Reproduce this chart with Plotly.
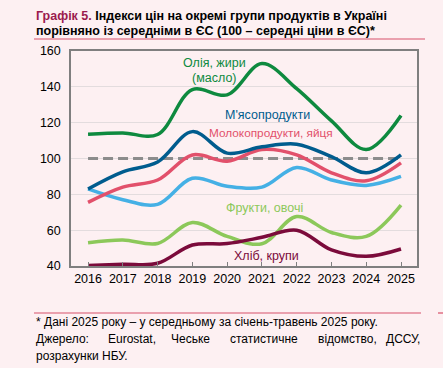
import plotly.graph_objects as go

years = [2016, 2017, 2018, 2019, 2020, 2021, 2022, 2023, 2024, 2025]
oil = [113.6, 114.3, 113.4, 138.5, 135.5, 153, 139, 121, 105, 124]
meat = [83, 92.6, 98, 115, 103, 106.5, 108, 101, 92, 102]
dairy = [75.5, 84, 88, 102, 98.5, 105, 102, 92, 87.6, 97.6]
meat_lb = [83, 77, 74.4, 89, 84.5, 84, 95, 88, 85, 90]
fruit = [53, 54.5, 52.6, 64.3, 56.5, 52.4, 67.6, 58.7, 56.5, 74]
bread = [40.3, 41, 41.5, 51.7, 52.5, 56, 60, 49, 45.4, 49.5]
eu_avg = [100] * len(years)

series = [
    ("Фрукти, овочі", fruit, "#8CC85A"),
    ("Хліб, крупи", bread, "#7B0B3B"),
    ("light blue", meat_lb, "#45B0E5"),
    ("Молокопродукти, яйця", dairy, "#E2506B"),
    ("М'ясопродукти", meat, "#005C8E"),
    ("Олія, жири (масло)", oil, "#0E8A3F"),
]

FONT = "Liberation Sans, Arial, sans-serif"
L, R, T, B = 71, 417, 51, 266
W, H = 443, 368

def px(x):
    return (x - L) / (R - L)

def py(y):
    return (B - y) / (B - T)

fig = go.Figure()
fig.add_trace(go.Scatter(x=years, y=eu_avg, mode="lines",
                         line=dict(color="#8C8C8C", width=3.2, dash="10px,5px"),
                         hoverinfo="skip", showlegend=False))
for name, vals, col in series:
    fig.add_trace(go.Scatter(x=years, y=vals, mode="lines", name=name,
                             line=dict(color=col, width=3.5, shape="spline", smoothing=1.0),
                             showlegend=False))

ann = []
def label(text, x, y, col, size=12.5, xanchor="center"):
    ann.append(dict(text=text, x=x, y=y, xref="x", yref="y", showarrow=False,
                    font=dict(family=FONT, size=size, color=col), xanchor=xanchor))

label("Олія, жири", 2019.65, 153.5, "#0E8A3F")
label("(масло)", 2019.65, 145, "#0E8A3F")
label("М'ясопродукти", 2021.15, 124.5, "#005C8E")
label("Молокопродукти, яйця", 2021.25, 114.5, "#E2506B", size=11.8)
label("Фрукти, овочі", 2021.07, 72.5, "#8CC85A")
label("Хліб, крупи", 2021.13, 45.5, "#7B0B3B")

def pap(text, xpix, ypix, size=12, color="#000000", bold=False):
    t = f"<b>{text}</b>" if bold else text
    ann.append(dict(text=t, x=px(xpix), y=py(ypix), xref="paper", yref="paper",
                    showarrow=False, xanchor="left", yanchor="middle",
                    font=dict(family=FONT, size=size, color=color)))

pap("<span style='color:#9B1B4E'>Графік 5.</span> Індекси цін на окремі групи продуктів в Україні",
    34, 16, size=12.5, bold=True)
pap("порівняно із середніми в ЄС (100 – середні ціни в ЄС)*", 34, 31, size=12.5, bold=True)

pap("* Дані 2025 року – у середньому за січень-травень 2025 року.", 34, 322, size=12)
words = [("Джерело:", 34), ("Eurostat,", 106), ("Чеське", 169), ("статистичне", 228),
         ("відомство,", 316), ("ДССУ,", 384)]
for w, xp in words:
    pap(w, xp, 339, size=12)
pap("розрахунки НБУ.", 34, 356, size=12)

shapes = [
    dict(type="line", xref="paper", yref="paper", x0=px(34), x1=px(425), y0=py(39), y1=py(39),
         line=dict(color="#D8506A", width=1.2)),
    dict(type="line", xref="paper", yref="paper", x0=px(34), x1=px(421), y0=py(313), y1=py(313),
         line=dict(color="#D8506A", width=1.2)),
    dict(type="line", xref="paper", yref="paper", x0=px(438), x1=px(443), y0=py(313), y1=py(313),
         line=dict(color="#D8506A", width=1.2)),
]

fig.update_layout(
    width=W, height=H,
    margin=dict(l=L, r=W - R, t=T, b=H - B),
    paper_bgcolor="#FDF0F2", plot_bgcolor="#FDF0F2",
    font=dict(family=FONT, size=12, color="#000000"),
    annotations=ann, shapes=shapes,
    xaxis=dict(range=[2015.51, 2025.46], tickvals=years, ticktext=[str(y) for y in years],
               showgrid=False, zeroline=False, showline=True, linecolor="#7F7F7F", linewidth=1.5,
               mirror=True, ticks="inside", ticklen=4, tickcolor="#7F7F7F",
               tickfont=dict(family=FONT, size=12.5, color="#000000")),
    yaxis=dict(range=[40, 160], tickvals=[40, 60, 80, 100, 120, 140, 160],
               showgrid=True, gridcolor="#E3DCDE", gridwidth=1.2, zeroline=False,
               showline=True, linecolor="#7F7F7F", linewidth=1.5, mirror=True,
               ticks="", ticklabelstandoff=6,
               tickfont=dict(family=FONT, size=12.5, color="#000000")),
)

fig.write_html("out.html", config={"displayModeBar": False},
               post_script="document.body.style.margin='0';document.body.style.background='#FDF0F2';")
